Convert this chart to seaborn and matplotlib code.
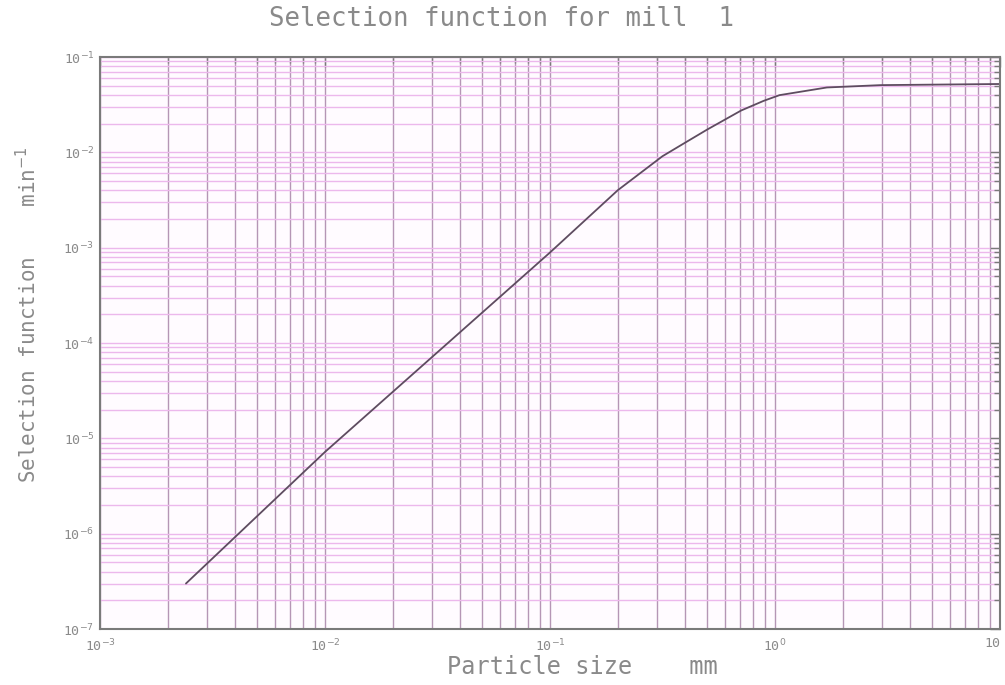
import numpy as np
import pandas as pd
import matplotlib
matplotlib.use("Agg")
import matplotlib.pyplot as plt
import matplotlib.ticker as mticker
import seaborn as sns

# Selection function of mill 1 versus particle size
size_mm = [0.00241, 0.01, 0.1, 0.2, 0.316, 0.398, 0.501, 0.708,
           0.891, 1.047, 1.70, 2.95, 10.0]
selection = [3.0e-7, 7.2e-6, 8.9e-4, 4.0e-3, 9.1e-3, 0.0126, 0.0174, 0.0275,
             0.0347, 0.0398, 0.0479, 0.0507, 0.0521]

x_ticks = [1e-3, 1e-2, 1e-1, 1e0, 1e1]
x_tick_labels = ["10$^{-3}$", "10$^{-2}$", "10$^{-1}$", "10$^{0}$", "10"]
y_ticks = [1e-7, 1e-6, 1e-5, 1e-4, 1e-3, 1e-2, 1e-1]
y_tick_labels = ["10$^{-7}$", "10$^{-6}$", "10$^{-5}$", "10$^{-4}$",
                 "10$^{-3}$", "10$^{-2}$", "10$^{-1}$"]

df = pd.DataFrame({"size": size_mm, "S": selection})

sns.set_style("white")
plt.rcParams["font.family"] = ["DejaVu Sans Mono", "DejaVu Sans"]

TEXT = "#8a8a8a"
SPINE = "#7a7a7a"

fig = plt.figure(figsize=(10.05, 6.85), dpi=100)
ax = fig.add_axes([100 / 1005, 56 / 685, 900 / 1005, 572 / 685])
ax.set_facecolor("#fffbff")

ax.set_xscale("log")
ax.set_yscale("log")
ax.set_xlim(1e-3, 1e1)
ax.set_ylim(1e-7, 1e-1)

# grid: purple verticals, pink horizontals at every decade subdivision
ax.xaxis.set_minor_locator(mticker.LogLocator(base=10, subs=np.arange(2, 10), numticks=20))
ax.yaxis.set_minor_locator(mticker.LogLocator(base=10, subs=np.arange(2, 10), numticks=20))
ax.xaxis.set_minor_formatter(mticker.NullFormatter())
ax.yaxis.set_minor_formatter(mticker.NullFormatter())
ax.grid(True, which="both", axis="x", color="#b596b5", lw=1.0)
ax.grid(True, which="both", axis="y", color="#ecb8ec", lw=1.0)
ax.set_axisbelow(True)

sns.lineplot(data=df, x="size", y="S", ax=ax, color="#5e4c60", lw=1.3)

ax.set_xticks(x_ticks)
ax.set_xticklabels(x_tick_labels)
ax.set_yticks(y_ticks)
ax.set_yticklabels(y_tick_labels)
ax.tick_params(which="both", direction="in", top=True, right=True,
               colors=SPINE, labelcolor=TEXT, labelsize=9.5)
ax.tick_params(which="major", length=7, width=1)
ax.tick_params(which="minor", length=4, width=1)
ax.tick_params(axis="x", pad=6)
ax.tick_params(axis="y", pad=4)
ax.get_xticklabels()[-1].set_horizontalalignment("right")

for sp in ax.spines.values():
    sp.set_color(SPINE)
    sp.set_linewidth(1.5)

ax.set_xlabel("Particle size    mm", color=TEXT, fontsize=17)
ax.xaxis.set_label_coords(0.536, -0.045)
ax.set_ylabel("Selection function    min$^{-1}$", color=TEXT, fontsize=15)
ax.yaxis.set_label_coords(-0.066, 0.55)
fig.text(0.499, 0.972, "Selection function for mill  1", ha="center", va="center",
         color=TEXT, fontsize=18.5)

fig.savefig("out.png", dpi=100, facecolor="white")
